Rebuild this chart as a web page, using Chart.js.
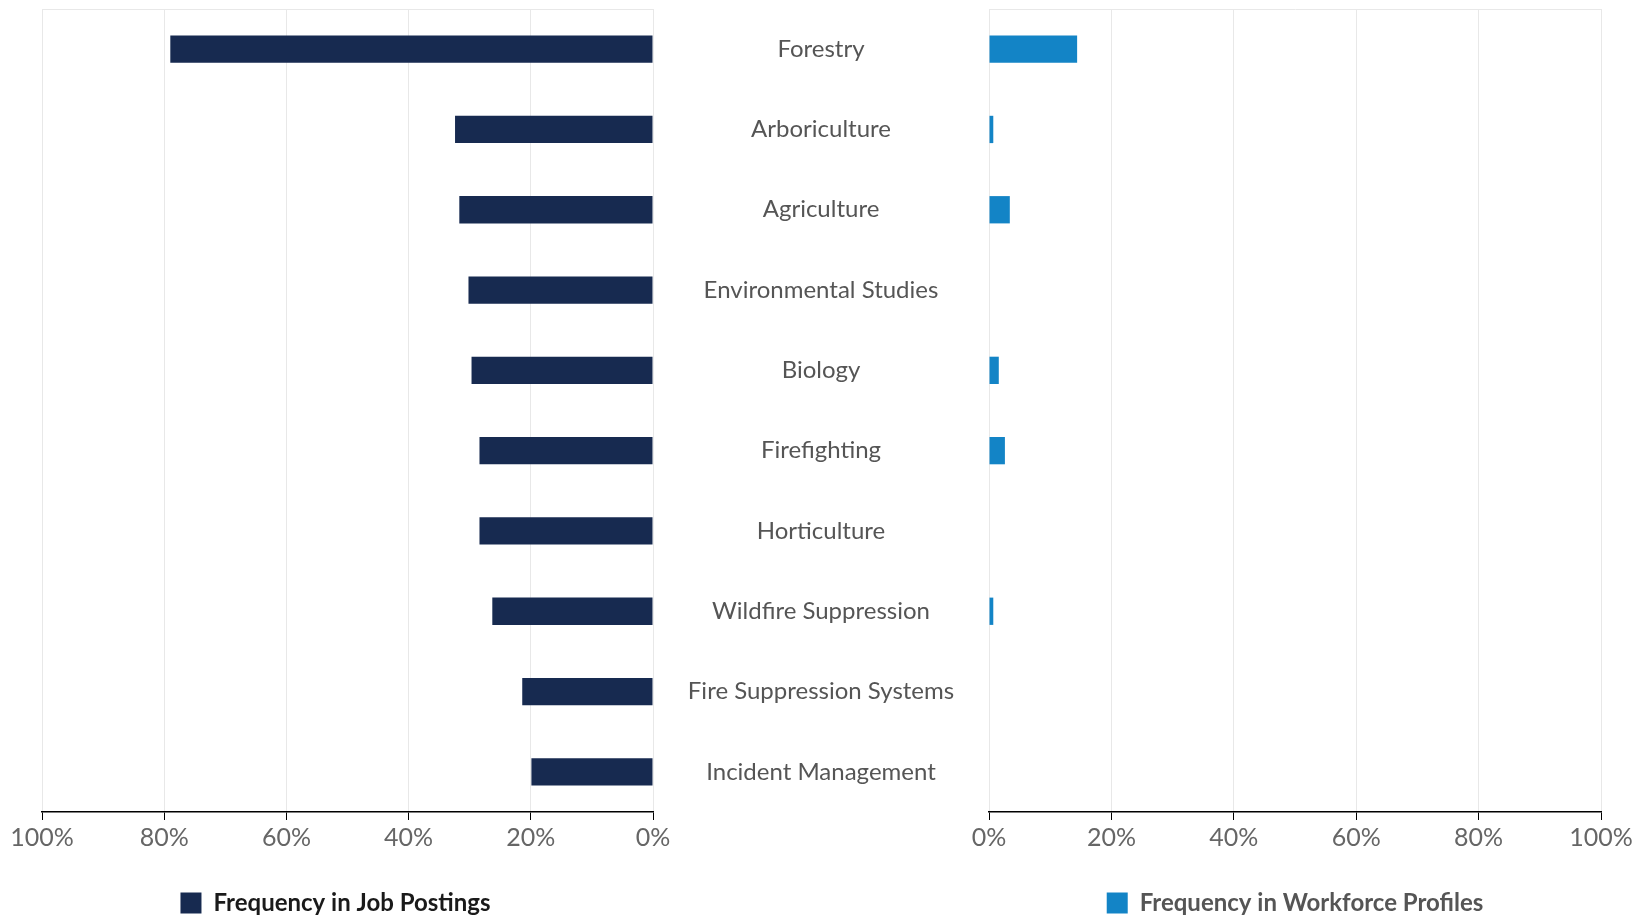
<!DOCTYPE html>
<html><head><meta charset="utf-8">
<script src="https://cdn.jsdelivr.net/npm/chart.js@4.4.1/dist/chart.umd.min.js"></script>
<style>
html,body{margin:0;padding:0;background:#fff;overflow:hidden;width:1644px;height:919px;}
canvas{position:absolute;top:0;}
#left{left:0;}
#right{left:653px;}
</style></head><body>
<canvas id="left" width="700" height="925"></canvas>
<canvas id="right" width="991" height="925"></canvas>
<script>
const categories = ['Forestry','Arboriculture','Agriculture','Environmental Studies','Biology','Firefighting','Horticulture','Wildfire Suppression','Fire Suppression Systems','Incident Management'];
const jobPostings = [79.0, 32.4, 31.7, 30.2, 29.7, 28.4, 28.4, 26.3, 21.4, 19.9];
const workforceProfiles = [14.4, 0.7, 3.4, 0, 1.6, 2.6, 0, 0.7, 0, 0];
const tickStep = 20;
const seriesNames = ['Frequency in Job Postings', 'Frequency in Workforce Profiles'];

const NAVY = '#172a50';
const BLUE = '#1384c6';
const FONT = 'Lato';
const LABEL_SIZE = 24;

const pct = v => v + '%';

function xAxis(reverse) {
  return {
    reverse: reverse, min: 0, max: 100,
    ticks: {stepSize: tickStep, callback: pct, color: '#666', font: {family: FONT, size: 25}, padding: 3, maxRotation: 0, autoSkip: false},
    grid: {color: '#e8e8e8', tickColor: '#000', tickLength: 8},
    border: {color: '#000', width: 1.5},
    afterFit: s => { s.height += 35; }
  };
}
const topBorder = {
  position: 'top', min: 0, max: 100, display: true,
  ticks: {display: false}, grid: {display: false, drawTicks: false},
  border: {display: true, color: '#e8e8e8'}
};
function legendOpts(color) {
  return {
    position: 'bottom', fullSize: false,
    labels: {font: {family: FONT, size: 24, weight: 'bold'}, color: color, boxWidth: 21, boxHeight: 21, padding: 0}
  };
}
// nudges the legend sideways after layout
function legendShift(dx) {
  return {
    id: 'legendShift',
    afterLayout(chart) { if (chart.legend) { chart.legend.left += dx; chart.legend.right += dx; } }
  };
}

// measure widest category label to centre labels in the gap between panels
const mctx = document.createElement('canvas').getContext('2d');
mctx.font = LABEL_SIZE + 'px ' + FONT;
const widest = Math.max(...categories.map(c => mctx.measureText(c).width));
const gapWidth = 336;
const labelPad = Math.max(0, gapWidth / 2 - widest / 2);

new Chart(document.getElementById('left'), {
  type: 'bar',
  data: {labels: categories, datasets: [{label: seriesNames[0], data: jobPostings, backgroundColor: NAVY, barPercentage: 0.34, categoryPercentage: 1}]},
  options: {
    responsive: false, animation: false, indexAxis: 'y',
    layout: {padding: {left: 42, right: 47, top: 9, bottom: 0}},
    scales: {x: xAxis(true), x2: topBorder, y: {display: false}},
    plugins: {legend: legendOpts('#1a1a1a'), tooltip: {enabled: false}}
  },
  plugins: [legendShift(-12)]
});

new Chart(document.getElementById('right'), {
  type: 'bar',
  data: {labels: categories, datasets: [{label: seriesNames[1], data: workforceProfiles, backgroundColor: BLUE, barPercentage: 0.34, categoryPercentage: 1}]},
  options: {
    responsive: false, animation: false, indexAxis: 'y',
    layout: {padding: {left: 0, right: 43, top: 9, bottom: 0}},
    scales: {
      x: xAxis(false), x2: topBorder,
      y: {
        position: 'left',
        grid: {display: false, drawTicks: false}, border: {display: false},
        ticks: {crossAlign: 'center', padding: labelPad, color: '#555', font: {family: FONT, size: LABEL_SIZE}},
        afterFit: s => { s.width = gapWidth; s.paddingTop = 0; s.paddingBottom = 0; }
      }
    },
    plugins: {legend: legendOpts('#555'), tooltip: {enabled: false}}
  }
});
</script>
</body></html>
